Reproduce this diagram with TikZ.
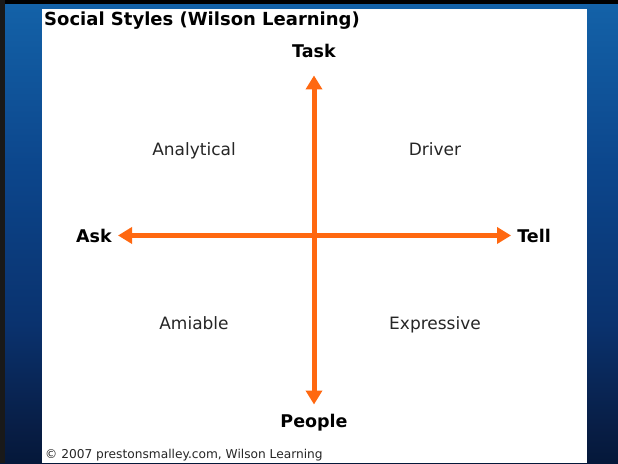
\documentclass[tikz,border=0pt]{standalone}
\usepackage{fontspec}
\setmainfont{DejaVu Sans}
\usetikzlibrary{arrows.meta}
\definecolor{arroworange}{RGB}{255,104,16}
\definecolor{deepnavy}{RGB}{0,16,42}
\pgfdeclareverticalshading{sidebg}{100bp}{
  color(0bp)=(deepnavy); color(20bp)=(deepnavy);
  color(29bp)=(rgb,255:red,8;green,30;blue,70);
  color(40bp)=(rgb,255:red,10;green,50;blue,110);
  color(57bp)=(rgb,255:red,12;green,70;blue,140);
  color(76bp)=(rgb,255:red,20;green,100;blue,170);
  color(90bp)=(rgb,255:red,10;green,42;blue,100);
  color(100bp)=(rgb,255:red,4;green,16;blue,40)}
\begin{document}
\begin{tikzpicture}[
        x=1pt, y=-1pt,
        every node/.style={inner sep=0pt, text centered, anchor=base},
        ar/.style={{Triangle[width=16pt,length=14pt]}-{Triangle[width=16pt,length=14pt]}, line width=5pt, arroworange},
        axis/.style={font=\bfseries\fontsize{17.5}{20}\selectfont},
        style/.style={font=\fontsize{17}{20}\selectfont, text=black!85},
    ]

    % background panels
    \useasboundingbox (0,0) rectangle (618,463);
    \shade[shading=sidebg] (0,0) rectangle (618,463);
    \fill[black] (0,0) rectangle (618,4);
    \fill[black!90] (0,0) rectangle (5,463);
    \fill[white] (42,9) rectangle (587,463);

    \node[anchor=base west, font=\bfseries\fontsize{18}{20}\selectfont](title) at (44,25) {Social Styles (Wilson Learning)};
    \node[anchor=base west, font=\fontsize{12.2}{14}\selectfont, text=black!85](credit) at (45,458) {© 2007 prestonsmalley.com, Wilson Learning};

    \node[axis](task) at (314,57) {Task};
    \node[axis](people) at (314,427) {People};
    \node[axis](ask) at (94,242) {Ask};
    \node[axis](tell) at (534,242) {Tell};

    \node[style](analytical) at (194,155) {Analytical};
    \node[style](driver) at (435,155) {Driver};
    \node[style](amiable) at (194,329) {Amiable};
    \node[style](expressive) at (435,329) {Expressive};

    \draw[ar, shorten <=18pt, shorten >=9pt] (task.south) -- (task.south |- people.north);
    \draw[ar, shorten <=6pt, shorten >=6pt] (ask.east) -- (tell.west);
    \end{tikzpicture}
\end{document}
